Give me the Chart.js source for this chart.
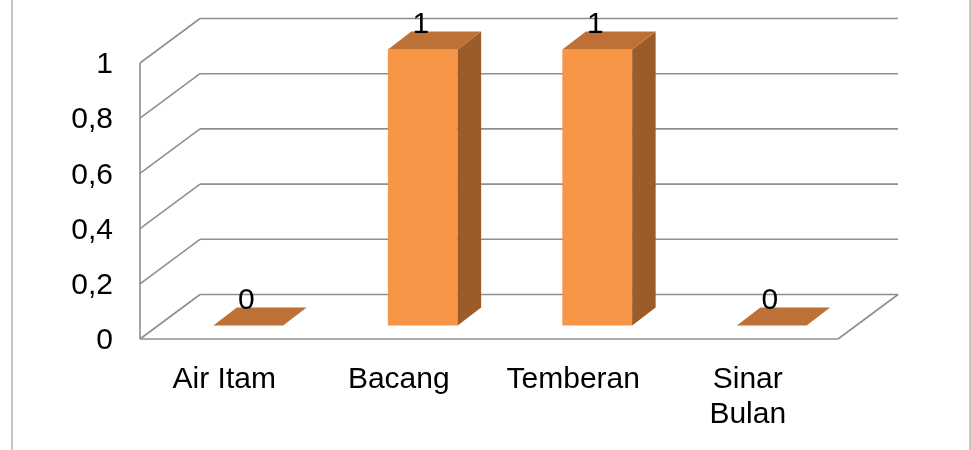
<!DOCTYPE html>
<html>
<head>
<meta charset="utf-8">
<script src="https://cdn.jsdelivr.net/npm/chart.js@4"></script>
<style>
  html, body { margin: 0; padding: 0; background: #fff; }
  #wrap { position: relative; width: 971px; height: 450px; }
</style>
</head>
<body>
<div id="wrap"><canvas id="chart"></canvas></div>
<script>
const categories = ['Air Itam', 'Bacang', 'Temberan', ['Sinar', 'Bulan']];
const values = [0, 1, 1, 0];
const yTicks = [0, 0.2, 0.4, 0.6, 0.8, 1];

const FONT_FAMILY = '"Liberation Sans", Arial, sans-serif';
const FONT_SIZE = 30;
const DEPTH = { x: 60, y: -44.5 };      // floor / side wall depth
const BAR_OFFSET = { x: 21, y: -13.5 }; // bars stand inside the floor
const BAR_DEPTH = { x: 23.5, y: -18 };  // bar thickness
const GRID_COLOR = '#8f8f8f';
const FRAME_COLOR = '#c6c6c6';
const FRONT_COLOR = '#f79646';
const TOP_COLOR = '#bd7136';
const SIDE_COLOR = '#9c5c2a';

function line(ctx, x1, y1, x2, y2) {
  ctx.beginPath();
  ctx.moveTo(x1, y1);
  ctx.lineTo(x2, y2);
  ctx.stroke();
}

function fillPoly(ctx, points, color) {
  ctx.beginPath();
  points.forEach(([px, py], i) => (i ? ctx.lineTo(px, py) : ctx.moveTo(px, py)));
  ctx.closePath();
  ctx.fillStyle = color;
  ctx.fill();
}

function formatTick(value) {
  return String(Math.round(value * 10) / 10).replace('.', ',');
}

// back wall, side wall and floor outline
const wallsPlugin = {
  id: 'walls',
  beforeDatasetsDraw(chart) {
    const { ctx, chartArea: a, scales: { y } } = chart;
    ctx.save();
    ctx.strokeStyle = GRID_COLOR;
    ctx.lineWidth = 1.6;
    yTicks.forEach((v) => {
      const py = y.getPixelForValue(v);
      line(ctx, a.left, py, a.left + DEPTH.x, py + DEPTH.y);
      line(ctx, a.left + DEPTH.x, py + DEPTH.y, a.right + DEPTH.x, py + DEPTH.y);
    });
    line(ctx, a.left, a.top, a.left, a.bottom);
    line(ctx, a.left, a.bottom, a.right, a.bottom);
    line(ctx, a.right, a.bottom, a.right + DEPTH.x, a.bottom + DEPTH.y);

    ctx.strokeStyle = FRAME_COLOR;
    ctx.lineWidth = 2;
    line(ctx, 12, 0, 12, chart.height);
    line(ctx, chart.width - 1, 0, chart.width - 1, chart.height);
    ctx.restore();
  },
};

// boxes for each bar plus the value label on top
const boxesPlugin = {
  id: 'boxes',
  afterDatasetsDraw(chart) {
    const { ctx } = chart;
    const meta = chart.getDatasetMeta(0);
    ctx.save();
    meta.data.forEach((bar, i) => {
      const { x, y, base, width } = bar.getProps(['x', 'y', 'base', 'width'], true);
      const l = x - width / 2 + BAR_OFFSET.x;
      const r = x + width / 2 + BAR_OFFSET.x;
      const t = y + BAR_OFFSET.y;
      const b = base + BAR_OFFSET.y;
      const dx = BAR_DEPTH.x;
      const dy = BAR_DEPTH.y;

      ctx.fillStyle = FRONT_COLOR;
      ctx.fillRect(l, t, r - l, b - t);
      fillPoly(ctx, [[r, t], [r + dx, t + dy], [r + dx, b + dy], [r, b]], SIDE_COLOR);
      fillPoly(ctx, [[l, t], [l + dx, t + dy], [r + dx, t + dy], [r, t]], TOP_COLOR);

      ctx.fillStyle = '#000';
      ctx.font = `${FONT_SIZE}px ${FONT_FAMILY}`;
      ctx.textAlign = 'center';
      ctx.textBaseline = 'alphabetic';
      ctx.fillText(formatTick(values[i]), (l + r) / 2 - 2, t + dy + 1);
    });
    ctx.restore();
  },
};

new Chart(document.getElementById('chart'), {
  type: 'bar',
  data: {
    labels: categories,
    datasets: [
      {
        data: values,
        backgroundColor: 'rgba(0,0,0,0)',
        borderWidth: 0,
        barPercentage: 0.4,
        categoryPercentage: 1,
      },
    ],
  },
  options: {
    responsive: true,
    maintainAspectRatio: false,
    animation: false,
    layout: { padding: { left: 0, right: 133, top: 63, bottom: 0 } },
    plugins: {
      legend: { display: false },
      tooltip: { enabled: false },
    },
    scales: {
      x: {
        grid: { display: false, drawTicks: false },
        border: { display: false },
        ticks: {
          color: '#000',
          font: { family: FONT_FAMILY, size: FONT_SIZE, lineHeight: 1.17 },
          padding: 23,
          labelOffset: -3,
          maxRotation: 0,
          autoSkip: false,
        },
        afterFit(scale) {
          scale.height = 111;
        },
      },
      y: {
        min: 0,
        max: 1,
        grid: { display: false, drawTicks: false },
        border: { display: false },
        ticks: {
          stepSize: 0.2,
          color: '#000',
          font: { family: FONT_FAMILY, size: FONT_SIZE },
          padding: 27,
          labelOffset: 2,
          callback: formatTick,
        },
        afterFit(scale) {
          scale.width = 140;
        },
      },
    },
  },
  plugins: [wallsPlugin, boxesPlugin],
});
</script>
</body>
</html>
